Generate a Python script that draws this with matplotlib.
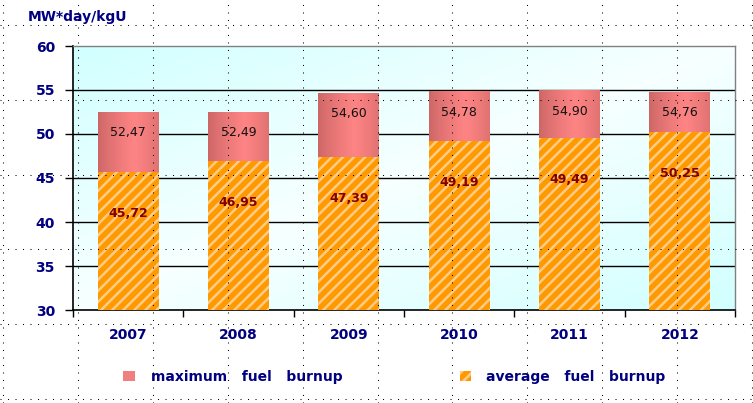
import numpy as np
import matplotlib
matplotlib.use("Agg")
import matplotlib.pyplot as plt
from matplotlib.lines import Line2D
from matplotlib.patches import Rectangle

years = ["2007", "2008", "2009", "2010", "2011", "2012"]
max_burnup = [52.47, 52.49, 54.60, 54.78, 54.90, 54.76]
avg_burnup = [45.72, 46.95, 47.39, 49.19, 49.49, 50.25]
yticks = [30, 35, 40, 45, 50, 55, 60]

W, H = 753, 403
NAVY = "#000080"

plt.rcParams["hatch.linewidth"] = 1.8

def fx(px):
    return px / W

def fy(py):
    return 1 - py / H

fig = plt.figure(figsize=(W / 100, H / 100), dpi=100)
ax = fig.add_axes([fx(73), fy(310), fx(735) - fx(73), fy(46) - fy(310)])

x = np.arange(len(years))
ax.set_xlim(-0.5, len(years) - 0.5)
ax.set_ylim(yticks[0], yticks[-1])

# diagonal cyan/white background
gx, gy = np.meshgrid(np.linspace(0, 1, 200), np.linspace(1, 0, 120))
f = np.abs(gx - gy)
c0 = np.array([0.97, 1.0, 1.0])
c1 = np.array([0.82, 1.0, 1.0])
bg = c0 + (c1 - c0) * f[..., None]
ax.imshow(bg, extent=(0, 1, 0, 1), transform=ax.transAxes, aspect="auto", zorder=0)

for v in yticks[1:-1]:
    ax.axhline(v, color="black", lw=1, zorder=1)

bw = 0.55
base = yticks[0]
max_bars = ax.bar(x, np.array(max_burnup) - base, bottom=base, width=bw,
                  color="#F08080", lw=0, zorder=2)

# pink horizontal gradient on the max bars
t = np.linspace(0, 1, 100)
prof = np.clip(1 - np.abs(t - 0.6) / 0.6, 0, 1) ** 0.8
dark = np.array([0.80, 0.40, 0.40])
light = np.array([1.0, 0.52, 0.52])
grad = (dark + (light - dark) * prof[:, None])[None, :, :]
for b in max_bars:
    ax.imshow(grad, extent=(b.get_x(), b.get_x() + b.get_width(), b.get_y(), b.get_y() + b.get_height()),
              aspect="auto", zorder=2.5)

avg_bars = ax.bar(x, np.array(avg_burnup) - base, bottom=base, width=bw,
                  facecolor="#FF9900", edgecolor="#FFCC88", hatch="///", lw=0, zorder=3)

ax.set_xlim(-0.5, len(years) - 0.5)
ax.set_ylim(yticks[0], yticks[-1])

for xi, mv, av in zip(x, max_burnup, avg_burnup):
    ax.text(xi, mv - 2.3, f"{mv:.2f}".replace(".", ","), ha="center", va="center",
            fontsize=9, color="#111111", zorder=5)
    ax.text(xi, av - 4.7, f"{av:.2f}".replace(".", ","), ha="center", va="center",
            fontsize=9, fontweight="bold", color="#800000", zorder=5)

ax.set_yticks(yticks)
ax.set_yticklabels([str(v) for v in yticks], fontsize=10, fontweight="bold", color=NAVY)
ax.tick_params(axis="y", direction="out", length=6, width=1, pad=7, colors="black", labelcolor=NAVY)

ax.set_xticks(np.arange(-0.5, len(years)))
ax.set_xticklabels([])
ax.set_xticks(x, minor=True)
ax.set_xticklabels(years, minor=True, fontsize=10, fontweight="bold", color=NAVY)
ax.tick_params(axis="x", which="major", direction="out", length=5, width=1)
ax.tick_params(axis="x", which="minor", length=0, pad=13)

for s in ["left", "bottom"]:
    ax.spines[s].set_color("black")
    ax.spines[s].set_linewidth(1.2)
for s in ["top", "right"]:
    ax.spines[s].set_color("#808080")
    ax.spines[s].set_linewidth(1)

fig.text(fx(28), fy(17), "MW*day/kgU", fontsize=10, fontweight="bold", color=NAVY,
         ha="left", va="center")

# legend
fig.patches.append(Rectangle((fx(123), fy(381)), fx(12), fy(0) - fy(10), transform=fig.transFigure,
                             facecolor="#F08080", lw=0))
fig.patches.append(Rectangle((fx(460), fy(381)), fx(11), fy(0) - fy(10), transform=fig.transFigure,
                             facecolor="#FF9900", edgecolor="#FFCC88", hatch="///", lw=0))
fig.text(fx(151), fy(377), "maximum   fuel   burnup", fontsize=10, fontweight="bold", color=NAVY,
         ha="left", va="center")
fig.text(fx(486), fy(377), "average   fuel   burnup", fontsize=10, fontweight="bold", color=NAVY,
         ha="left", va="center")

# dotted overlay grid
for k in range(11):
    px = 3 + 74.9 * k
    fig.add_artist(Line2D([fx(px), fx(px)], [0, 1], transform=fig.transFigure, color="black",
                          lw=0.75, dashes=(1, 6.2), zorder=10))
for k in range(6):
    py = 25 + 74.8 * k
    fig.add_artist(Line2D([0, 1], [fy(py), fy(py)], transform=fig.transFigure, color="black",
                          lw=0.75, dashes=(1, 6.2), zorder=10))

fig.savefig("out.png", dpi=100)
